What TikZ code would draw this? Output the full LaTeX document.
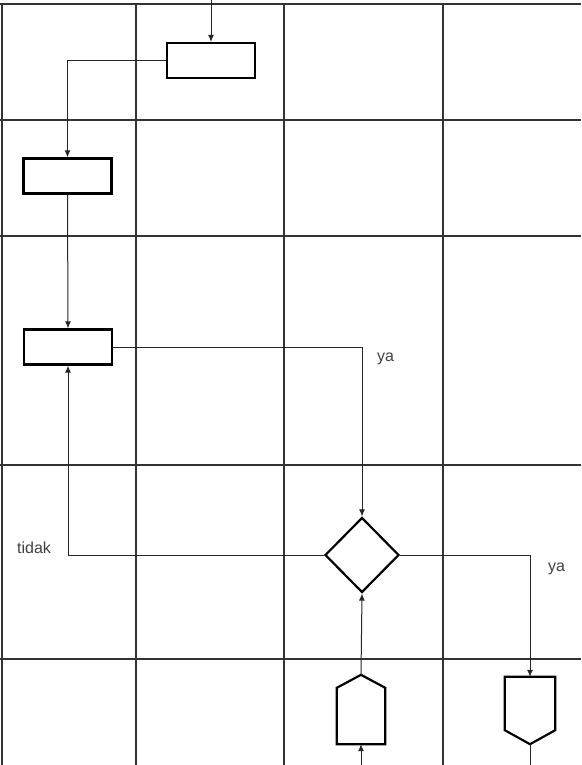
\documentclass[tikz,border=0pt]{standalone}
\usepackage{fontspec}
\setmainfont{Liberation Sans}
\usepackage{tikz}
\usetikzlibrary{arrows.meta, positioning, calc, shapes.geometric}

\tikzset{
  lane/.style={draw=black!80, line width=1.1pt},
  proses/.style={draw, line width=2.2pt, rectangle, minimum width=88pt, minimum height=35pt, inner sep=0pt},
  keputusan/.style={draw, line width=2.2pt, diamond, minimum width=74pt, minimum height=75pt, inner sep=0pt},
  konektor/.style={draw=none, rectangle, inner sep=0pt},
  alur/.style={draw=black!85, line width=1pt, -{Latex[length=7pt,width=6pt]}},
  teks/.style={font=\fontsize{16}{18}\selectfont, text=black!75, anchor=west, inner sep=0pt}
}

\begin{document}
\begin{tikzpicture}[x=1pt, y=-1pt]
    \useasboundingbox (0,0) rectangle (581,765);
    % Gitter der Bahnen
    \foreach \x in {2,136,284,443} {
      \draw[lane] (\x,4) -- (\x,765);
    }
    \foreach \y in {4,120,236,465,659} {
      \draw[lane] (0,\y) -- (581,\y);
    }

    % Symbole
    \node[proses] (p1) at (211,60.5) {};
    \node[proses] (p2) at (67.5,176) {};
    \node[proses] (p3) at (68,347) {};
    \node[keputusan] (dec) at (362,555) {};
    \node[konektor, minimum width=48pt, minimum height=69pt] (hex) at (361,709.5) {};
    \node[konektor, minimum width=50pt, minimum height=67pt] (shield) at (530,710.5) {};
    \draw[line width=2.2pt, line join=miter] (hex.south west) -- ($(hex.north west)+(0,13)$) -- (hex.north)
      -- ($(hex.north east)+(0,13)$) -- (hex.south east) -- cycle;
    \draw[line width=2.2pt, line join=miter] (shield.north west) -- ($(shield.south west)+(0,-14)$) -- (shield.south)
      -- ($(shield.south east)+(0,-14)$) -- (shield.north east) -- cycle;

    \coordinate (masuk) at (211,0);
    \coordinate (masuk2) at (361,765);
    \coordinate (keluar) at (530,765);

    % Alur
    \draw[alur] (masuk) -- (p1.north);
    \draw[alur] (p1.west) -| (p2.north);
    \draw[alur] (p2.south) -- (p3.north);
    \draw[alur] (p3.east) -| (dec.north);
    \draw[alur] (dec.west) -| (p3.south);
    \draw[alur] (dec.east) -| (shield.north);
    \draw[alur] (hex.north) -- (dec.south);
    \draw[alur] (masuk2) -- (hex.south);
    \draw[draw=black!85, line width=1pt] (shield.south) -- (keluar);

    \node[teks] (ya1) at (377,359) {ya};
    \node[teks] (tidak) at (17,548) {tidak};
    \node[teks] (ya2) at (548,569) {ya};
\end{tikzpicture}
\end{document}
